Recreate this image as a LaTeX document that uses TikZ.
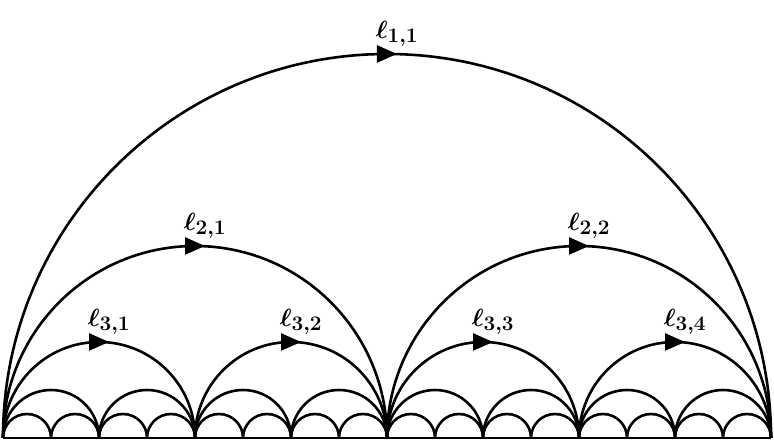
\documentclass[tikz,border=0pt]{standalone}
\usetikzlibrary{decorations.markings,arrows.meta}
\tikzset{
  arcline/.style={line width=2.6pt},
  midarrow/.style={postaction={decorate},decoration={markings,
    mark=at position 0.5 with {\arrow[xshift=10pt]{Triangle[length=20pt,width=17pt]}}}},
  looplabel/.style={font=\fontsize{30}{34}\selectfont\boldmath, inner sep=1pt}
}
\begin{document}
\begin{tikzpicture}[x=1pt,y=1pt]
\useasboundingbox (0,0) rectangle (774,443);
% base line
\draw[arcline] (3,5) -- (771,5);
% small arcs, no arrows
\foreach \r/\n in {48/8,24/16}{
  \foreach \k in {1,...,\n}{
    \draw[arcline] ({3+2*\r*(\k-1)},5) arc[start angle=180,end angle=0,radius=\r];
  }
}
% arcs with arrows and labels
\foreach \r/\n/\i in {384/1/1,192/2/2,96/4/3}{
  \foreach \k in {1,...,\n}{
    \draw[arcline,midarrow] ({3+2*\r*(\k-1)},5) arc[start angle=180,end angle=0,radius=\r];
    \node[looplabel,anchor=south] (lab-\i-\k) at ({3+2*\r*(\k-1)+\r+10},{5+\r+6}) {$\ell_{\i,\k}$};
  }
}
\end{tikzpicture}
\end{document}
